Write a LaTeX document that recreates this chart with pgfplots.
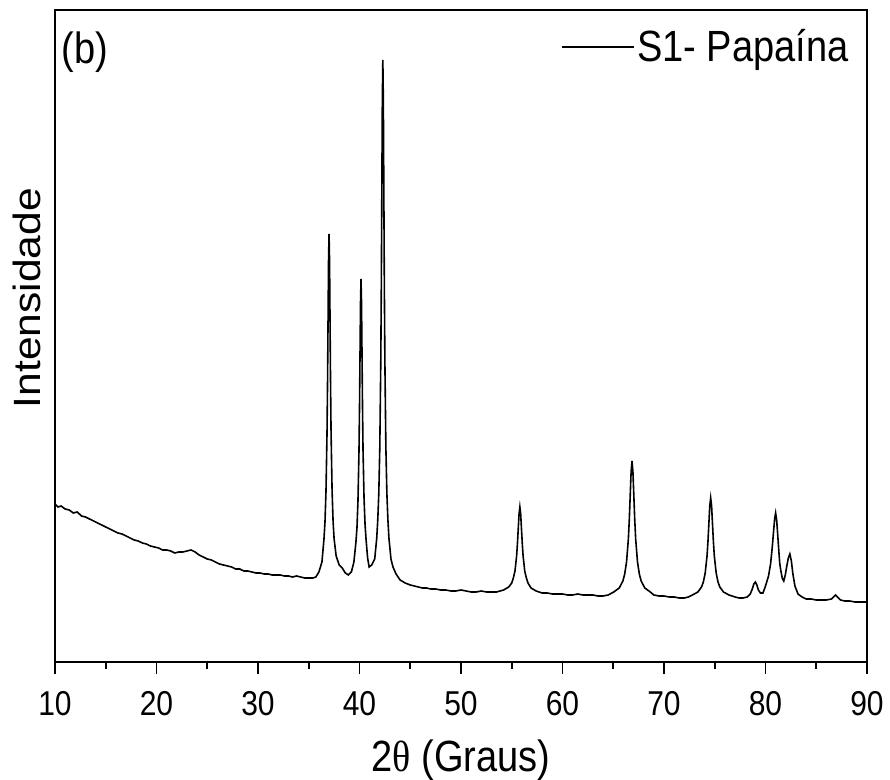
\documentclass[border=0pt]{standalone}
\usepackage{pgfplots}
\pgfplotsset{compat=1.18}
\usepackage{fontspec}
\setmainfont{Liberation Sans}
\newfontfamily\grk{Liberation Serif}
\newcommand{\vs}[1]{\scalebox{1}[1.15]{#1}}
\begin{document}
\begin{tikzpicture}
\useasboundingbox (-27.5pt,-59pt) rectangle (417.5pt,331pt);
\begin{axis}[
  at={(0,0)}, anchor=south west,
  scale only axis, width=406pt, height=326pt,
  xmin=10, xmax=90, ymin=0, ymax=652,
  xtick={10,20,...,90}, minor xtick={15,25,...,85},
  ytick=\empty,
  axis line style={line width=1pt},
  every tick/.style={black, line width=0.9pt},
  tick align=outside,
  major tick length=6pt, minor tick length=3.5pt,
  xtick pos=bottom,
  xticklabel={\vs{\pgfmathprintnumber{\tick}}},
  x tick label style={font=\fontsize{15}{18}\selectfont, yshift=-5pt},
  /pgf/number format/assume math mode=true,
  xlabel={\vs{2{\grk θ} (Graus)}},
  ylabel={\scalebox{1.12}[1]{Intensidade}},
  xlabel style={font=\fontsize{19}{22}\selectfont, at={(axis description cs:0.5,0)}, anchor=center, yshift=-49pt},
  ylabel style={font=\fontsize{19}{22}\selectfont, at={(axis description cs:0,0.558)}, anchor=center, xshift=0pt, yshift=14pt},
  legend style={at={(axis description cs:0.9815,0.943)}, anchor=east, draw=none, fill=none, inner sep=0pt, font=\fontsize{19}{22}\selectfont, nodes={inner sep=1.5pt}},
  legend image code/.code={\draw[#1] (0pt,0pt) -- (36pt,0pt);},
  clip=true,
]
\addplot[black, line width=0.8pt] coordinates {
(10.0,158) (10.3,155) (10.6,156) (11.0,153) (11.4,152) (11.8,149) (12.2,150) (12.6,146)
(13.0,145) (13.4,143) (13.8,141) (14.2,139) (14.6,137) (15.0,135) (15.4,133) (15.8,131)
(16.2,129) (16.6,128) (17.0,126) (17.4,124) (17.8,122) (18.2,121) (18.6,119) (19.0,118)
(19.4,116) (19.8,115) (20.2,114) (20.6,112) (21.0,112) (21.4,111) (21.8,109) (22.2,110)
(22.6,110) (23.0,111) (23.4,112) (23.8,110) (24.2,107) (24.6,105) (25.0,103) (25.4,102)
(25.8,100) (26.2,98) (26.6,97) (27.0,96) (27.4,95) (27.8,93) (28.2,93) (28.6,91)
(29.0,91) (29.4,90) (29.8,89) (30.2,89) (30.6,88) (31.0,88) (31.4,87) (31.8,87)
(32.2,87) (32.6,86) (33.0,86) (33.4,85) (33.8,86) (34.2,85) (34.6,84) (35.0,84)
(35.4,84) (35.7,85) (36.0,90) (36.3,100) (36.5,123) (36.6,140) (36.7,171) (36.8,229)
(36.85,277) (36.9,339) (36.95,401) (37.0,428) (37.05,401) (37.1,339) (37.15,277) (37.2,229)
(37.3,171) (37.4,140) (37.5,123) (37.7,106) (38.0,97) (38.3,94) (38.6,89) (38.9,87)
(39.2,90) (39.45,100) (39.65,120) (39.75,134) (39.85,161) (39.95,211) (40.0,253) (40.05,306)
(40.1,359) (40.15,383) (40.2,359) (40.25,306) (40.3,253) (40.35,211) (40.45,163) (40.55,137)
(40.65,122) (40.8,104) (40.95,95) (41.2,97) (41.5,103) (41.7,124) (41.8,142) (41.9,168)
(42.0,214) (42.1,302) (42.15,375) (42.2,468) (42.25,561) (42.3,602) (42.35,561) (42.4,468)
(42.45,375) (42.5,302) (42.6,214) (42.7,168) (42.8,142) (42.9,124) (43.1,103) (43.3,95)
(43.6,88) (44.0,82) (44.5,79) (45.0,77) (45.4,76) (45.8,75) (46.2,74) (46.6,74)
(47.0,73) (47.5,73) (48.0,72) (48.5,72) (49.0,71) (49.5,71) (50.0,72) (50.5,71)
(51.0,70) (51.5,70) (52.0,71) (52.5,70) (53.0,70) (53.5,70) (54.2,72) (54.7,75)
(55.0,79) (55.16,84) (55.32,91) (55.48,106) (55.56,118) (55.64,133) (55.72,148) (55.8,155)
(55.88,148) (55.96,133) (56.04,118) (56.12,106) (56.28,91) (56.44,84) (56.6,79) (56.9,74)
(57.4,71) (58.0,69) (58.5,69) (59.0,68) (59.5,68) (60.0,68) (60.5,67) (61.0,67)
(61.5,68) (62.0,67) (62.5,67) (63.0,67) (63.5,66) (64.0,66) (64.5,67) (65.05,70)
(65.59,74) (65.95,81) (66.13,88) (66.31,100) (66.49,123) (66.58,142) (66.67,166) (66.76,190)
(66.85,201) (66.94,190) (67.03,166) (67.12,142) (67.21,123) (67.39,100) (67.57,88) (67.75,81)
(68.11,74) (68.65,70) (69.0,67) (69.5,66) (70.0,66) (70.5,65) (71.0,65) (71.5,64)
(72.0,64) (72.4,65) (72.8,67) (73.34,70) (73.7,75) (73.88,80) (74.06,89) (74.24,106)
(74.33,120) (74.42,138) (74.51,156) (74.6,164) (74.69,156) (74.78,138) (74.87,120) (74.96,106)
(75.14,89) (75.32,80) (75.5,75) (75.86,70) (76.4,67) (77.0,65) (77.4,64) (77.8,64)
(78.2,65) (78.5,68) (78.7,73) (78.85,78) (79.0,80) (79.15,77) (79.3,72) (79.5,69)
(79.75,69) (80.0,76) (80.3,86) (80.5,98) (80.65,113) (80.8,131) (80.9,143) (81.0,149)
(81.1,142) (81.2,128) (81.3,113) (81.4,99) (81.5,92) (81.65,84) (81.8,81) (81.95,87)
(82.1,96) (82.25,104) (82.4,108) (82.55,101) (82.7,88) (82.9,76) (83.2,68) (83.6,65)
(84.0,63) (84.5,63) (85.0,62) (85.5,62) (86.0,62) (86.5,63) (86.7,65) (86.9,67)
(87.1,65) (87.4,62) (87.8,61) (88.3,61) (88.8,60) (89.3,60) (90.0,60)
};
\addlegendentry{\vs{S1- Papaína}}
\node[font=\fontsize{19}{22}\selectfont, anchor=center] at (axis description cs:0.037,0.935) {\vs{(b)}};
\end{axis}
\end{tikzpicture}
\end{document}
